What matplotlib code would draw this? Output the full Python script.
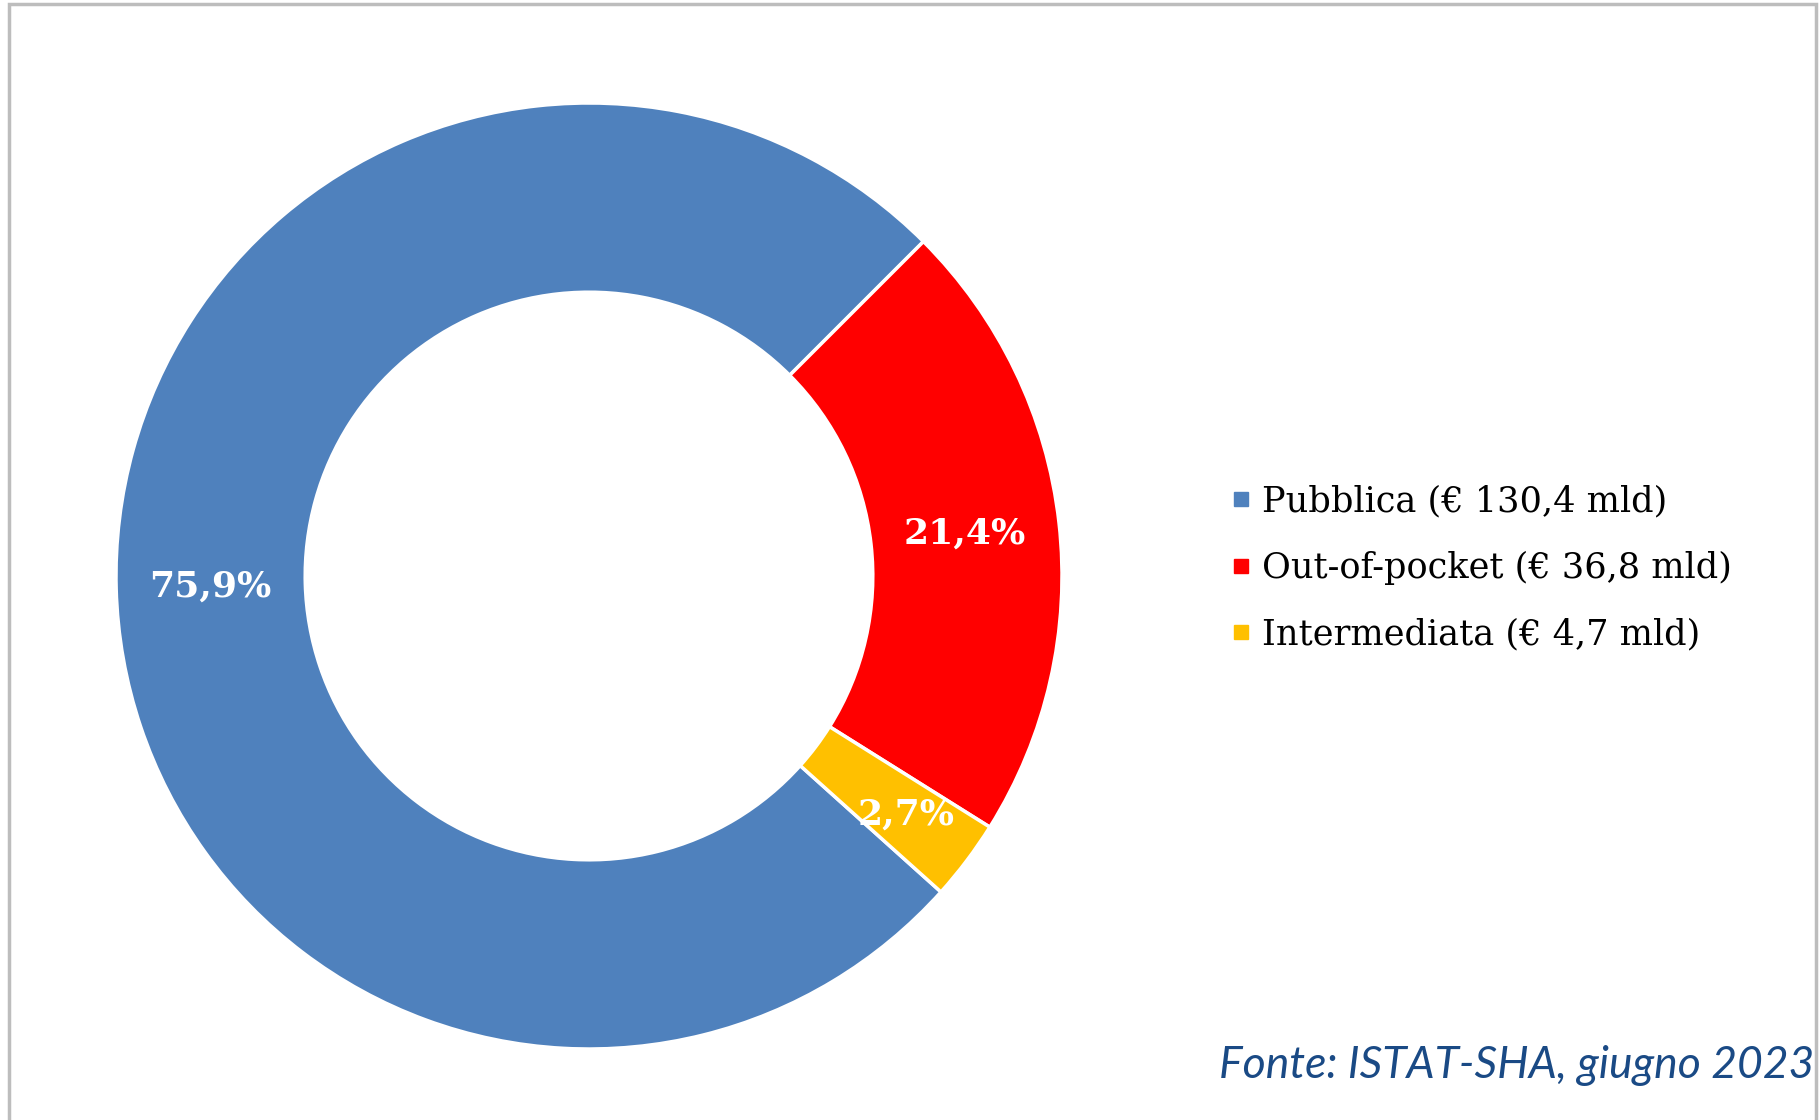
import matplotlib
matplotlib.use("Agg")
import matplotlib.pyplot as plt
from matplotlib.lines import Line2D
from matplotlib.patches import Rectangle
import numpy as np

# Data
categories = ["Pubblica", "Out-of-pocket", "Intermediata"]
amounts_bn = [130.4, 36.8, 4.7]
pct_labels = ["75,9%", "21,4%", "2,7%"]
colors = ["#4F81BD", "#FF0000", "#FFC000"]
legend_labels = [
    "Pubblica (€ 130,4 mld)",
    "Out-of-pocket (€ 36,8 mld)",
    "Intermediata (€ 4,7 mld)",
]
source = "Fonte: ISTAT-SHA, giugno 2023"

W, H = 1819, 1120
fig = plt.figure(figsize=(W / 100, H / 100), dpi=100)
fig.patch.set_facecolor("white")

# frame
fig.add_artist(Rectangle((9 / W, -0.01), (1816 - 9) / W, (H - 4) / H + 0.01,
                         transform=fig.transFigure, fill=False,
                         edgecolor="#BDBDBD", linewidth=2.5))

cx, cy, r = 589, 576, 473
ax = fig.add_axes([(cx - r) / W, (H - cy - r) / H, 2 * r / W, 2 * r / H])
total = sum(amounts_bn)
start = 45 + amounts_bn[0] / total * 360
wedges, _ = ax.pie(amounts_bn, colors=colors, startangle=start, counterclock=False,
                   radius=1.0, wedgeprops=dict(width=0.4, edgecolor="white", linewidth=2.5))
ax.set_xlim(-1, 1)
ax.set_ylim(-1, 1)
ax.set_aspect("equal")
ax.axis("off")

for w, lab in zip(wedges, pct_labels):
    ang = np.deg2rad((w.theta1 + w.theta2) / 2)
    rr = 0.8 if lab != "2,7%" else 0.84
    ax.text(rr * np.cos(ang), rr * np.sin(ang), lab, ha="center", va="center",
            color="white", fontsize=26, fontweight="bold", family="DejaVu Serif")

handles = [Line2D([], [], marker="s", linestyle="none", markersize=10,
                  markerfacecolor=c, markeredgecolor=c) for c in colors]
fig.legend(handles, legend_labels, loc="center left",
           bbox_to_anchor=(1232 / W, (H - 568) / H), frameon=False,
           prop=dict(family="DejaVu Serif", size=25.3), handlelength=0.5,
           handletextpad=0.35, labelspacing=0.93, borderpad=0, borderaxespad=0)

fig.text(1814 / W, (H - 1065) / H, source, ha="right", va="center",
         fontsize=32, style="italic", color="#1A4A85", family="Lato")

fig.savefig("out.png", dpi=100, facecolor="white")
